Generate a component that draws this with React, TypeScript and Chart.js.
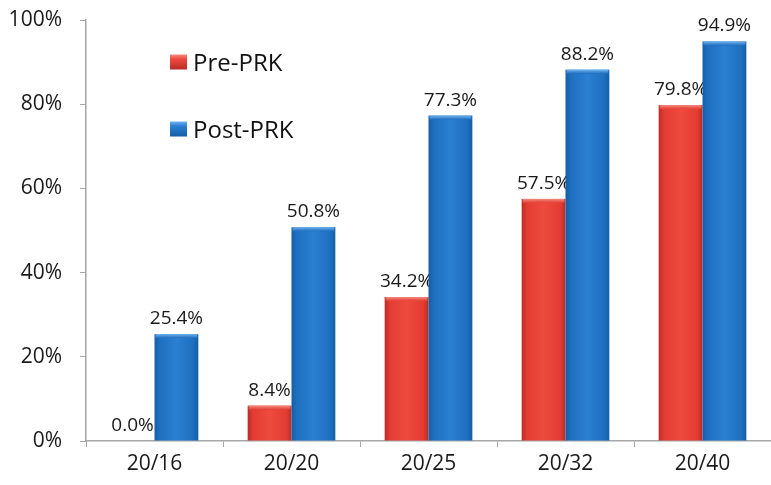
import React, { useEffect, useRef } from "react";
import { Chart, registerables } from "chart.js";

Chart.register(...registerables);

const categories = ["20/16", "20/20", "20/25", "20/32", "20/40"];
const preValues = [0.0, 8.4, 34.2, 57.5, 79.8];
const postValues = [25.4, 50.8, 77.3, 88.2, 94.9];
const seriesNames = ["Pre-PRK", "Post-PRK"];
const yTicks = [0, 20, 40, 60, 80, 100];

const FONT = "'Open Sans', 'Liberation Sans', sans-serif";

const palettes = [
  { edge: "#b92c25", mid: "#ef4a3e", cap: "#f58a7e", base: "#e33d33" },
  { edge: "#155ea6", mid: "#2b80d2", cap: "#6fb2ee", base: "#1e6fbf" },
];

const barStylePlugin = {
  id: "barStyle",
  afterDatasetsDraw(chart: any) {
    const ctx = chart.ctx;
    chart.data.datasets.forEach((ds: any, di: number) => {
      const meta = chart.getDatasetMeta(di);
      const p = palettes[di];
      meta.data.forEach((bar: any, i: number) => {
        const { x, y, base, width } = bar.getProps(["x", "y", "base", "width"], true);
        const left = x - width / 2;
        const h = base - y;
        if (h > 0.5) {
          const g = ctx.createLinearGradient(left, 0, left + width, 0);
          g.addColorStop(0, p.edge);
          g.addColorStop(0.12, p.base);
          g.addColorStop(0.5, p.mid);
          g.addColorStop(0.88, p.base);
          g.addColorStop(1, p.edge);
          ctx.save();
          ctx.fillStyle = g;
          ctx.fillRect(left, y, width, h);
          const cg = ctx.createLinearGradient(0, y, 0, y + 4);
          cg.addColorStop(0, p.cap);
          cg.addColorStop(1, p.base);
          ctx.fillStyle = cg;
          ctx.fillRect(left + 1, y, width - 2, Math.min(4, h));
          ctx.restore();
        }
        const v = ds.data[i];
        ctx.save();
        ctx.font = `19px ${FONT}`;
        ctx.fillStyle = "#1a1a1a";
        ctx.textAlign = "center";
        ctx.textBaseline = "alphabetic";
        ctx.fillText(v.toFixed(1) + "%", x, y - 10);
        ctx.restore();
      });
    });
  },
};

const legendPlugin = {
  id: "customLegend",
  afterDraw(chart: any) {
    const ctx = chart.ctx;
    const rows = [62, 129];
    chart.data.datasets.forEach((ds: any, di: number) => {
      const p = palettes[di];
      const cy = rows[di];
      const sx = 170, sw = 17, sh = 15;
      const g = ctx.createLinearGradient(0, cy - sh / 2, 0, cy + sh / 2);
      g.addColorStop(0, p.cap);
      g.addColorStop(0.3, p.mid);
      g.addColorStop(1, p.edge);
      ctx.save();
      ctx.fillStyle = g;
      ctx.fillRect(sx, cy - sh / 2, sw, sh);
      ctx.font = `24px ${FONT}`;
      ctx.fillStyle = "#111";
      ctx.textAlign = "left";
      ctx.textBaseline = "alphabetic";
      ctx.fillText(ds.label, 193, cy + 9);
      ctx.restore();
    });
  },
};

export default function App() {
  const ref = useRef<HTMLCanvasElement>(null);
  useEffect(() => {
    document.body.style.margin = "0";
    const chart = new Chart(ref.current!, {
      type: "bar",
      data: {
        labels: categories,
        datasets: [
          { label: seriesNames[0], data: preValues, backgroundColor: "rgba(0,0,0,0)" },
          { label: seriesNames[1], data: postValues, backgroundColor: "rgba(0,0,0,0)" },
        ],
      },
      options: {
        animation: false,
        responsive: false,
        layout: { padding: { top: 20, right: 0, left: 0, bottom: 0 } },
        plugins: { legend: { display: false }, tooltip: { enabled: false } },
        datasets: { bar: { categoryPercentage: 0.64, barPercentage: 1.0 } },
        scales: {
          x: {
            grid: { display: true, drawOnChartArea: false, tickLength: 6, color: "#a6a6a6", offset: true },
            border: { color: "#a6a6a6", width: 1.5 },
            ticks: { color: "#1a1a1a", font: { family: FONT, size: 21 }, padding: 4 },
            afterFit: (s: any) => { s.height = 44; s.paddingLeft = 0; s.paddingRight = 0; },
          },
          y: {
            min: 0,
            max: 100,
            afterBuildTicks: (s: any) => { s.ticks = yTicks.map((v) => ({ value: v })); },
            grid: { display: true, drawOnChartArea: false, tickLength: 6, color: "#a6a6a6" },
            border: { color: "#a6a6a6", width: 1.5 },
            ticks: {
              color: "#1a1a1a",
              font: { family: FONT, size: 21 },
              padding: 18,
              callback: (v: any) => v + "%",
            },
            afterFit: (s: any) => { s.width = 86; s.paddingTop = 0; s.paddingBottom = 0; },
          },
        },
      },
      plugins: [barStylePlugin, legendPlugin],
    });
    return () => chart.destroy();
  }, []);
  return (
    <div style={{ position: "absolute", left: 0, top: 0, width: 771, height: 485, background: "#fff" }}>
      <canvas ref={ref} width={771} height={485} style={{ width: 771, height: 485 }} />
    </div>
  );
}
